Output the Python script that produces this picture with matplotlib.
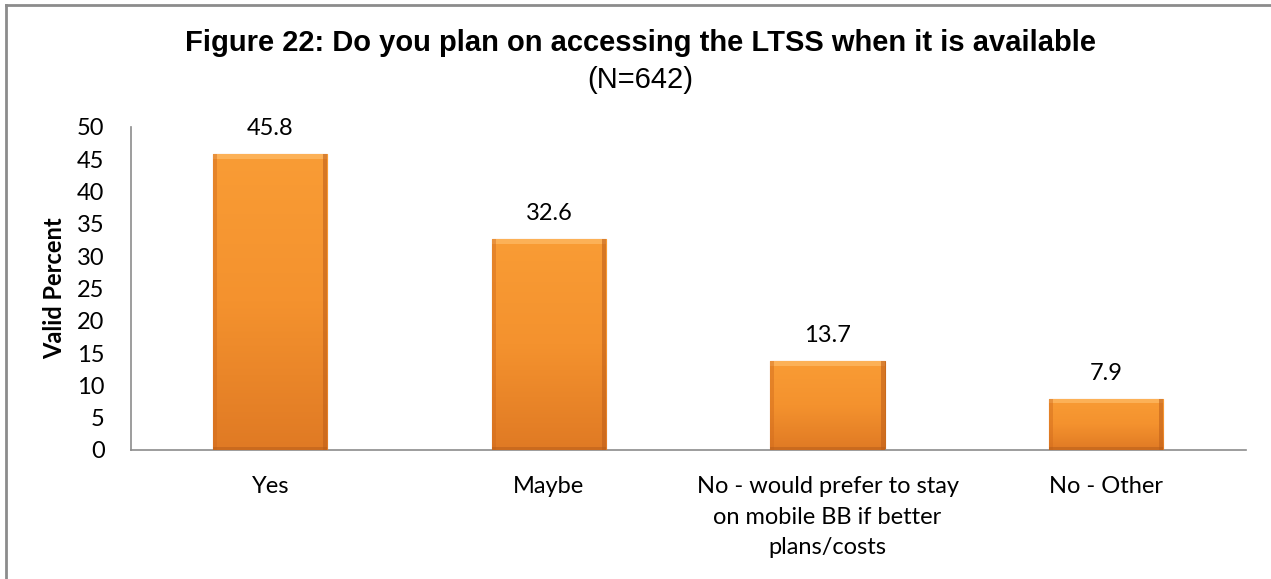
import numpy as np
import matplotlib.pyplot as plt
from matplotlib.colors import LinearSegmentedColormap
from matplotlib.patches import Rectangle

categories = ['Yes', 'Maybe', 'No - would prefer to stay\non mobile BB if better\nplans/costs', 'No - Other']
values = [45.8, 32.6, 13.7, 7.9]
yticks = [0, 5, 10, 15, 20, 25, 30, 35, 40, 45, 50]

body_font = ['Lato', 'DejaVu Sans']
title_font = ['Liberation Sans', 'DejaVu Sans']

fig = plt.figure(figsize=(12.71, 5.79), dpi=100)
ax = fig.add_axes([0.103, 0.2228, 0.877, 0.5579])

x = np.arange(len(categories))
bars = ax.bar(x, values, width=0.41, color='#F39433', edgecolor='#C96A1C', linewidth=0.8, zorder=2)

# vertical gradient + bevel look on each bar
grad = LinearSegmentedColormap.from_list('bar', ['#F99C35', '#F4922E', '#E07A24'])
for b in bars:
    x0, w, h = b.get_x(), b.get_width(), b.get_height()
    img = np.linspace(0, 1, 100).reshape(-1, 1)
    im = ax.imshow(img, cmap=grad, aspect='auto', extent=[x0, x0 + w, 0, h], zorder=3,
                   interpolation='bicubic')
    im.set_clip_path(b)
    # bevel edges
    ax.add_patch(Rectangle((x0, h - 0.7), w, 0.7, color='#FDB45C', alpha=0.9, zorder=4, linewidth=0))
    ax.add_patch(Rectangle((x0, 0), w * 0.035, h, color='#D06A1C', alpha=0.45, zorder=4, linewidth=0))
    ax.add_patch(Rectangle((x0 + w * 0.965, 0), w * 0.035, h, color='#C0601A', alpha=0.6, zorder=4, linewidth=0))
    ax.add_patch(Rectangle((x0, 0), w, 0.45, color='#B85E1A', alpha=0.55, zorder=4, linewidth=0))

for xi, v in zip(x, values):
    ax.text(xi, v + 4.0, f'{v:.1f}', ha='center', va='center', fontsize=17, family=body_font, color='#000000')

ax.set_xlim(-0.5, len(categories) - 0.5)
ax.set_ylim(0, 50)
ax.set_yticks(yticks)
ax.set_yticklabels([str(t) for t in yticks], family=body_font, fontsize=17)
ax.set_xticks(x)
ax.set_xticklabels(categories, family=body_font, fontsize=17, linespacing=1.55)
ax.tick_params(axis='y', length=0, pad=19)
ax.tick_params(axis='x', length=0, pad=19)

for s in ['top', 'right']:
    ax.spines[s].set_visible(False)
for s in ['left', 'bottom']:
    ax.spines[s].set_color('#8C8C8C')
    ax.spines[s].set_linewidth(1.2)

ax.set_ylabel('Valid Percent', family=body_font, fontsize=17, fontweight='bold', labelpad=8)

fig.text(0.504, 0.926, 'Figure 22: Do you plan on accessing the LTSS when it is available',
         ha='center', va='center', fontsize=21, fontweight='bold', family=title_font)
fig.text(0.504, 0.862, '(N=642)', ha='center', va='center', fontsize=21, family=title_font)

# outer chart border (left and top edges visible)
fig.add_artist(plt.Line2D([0.0047, 0.0047], [0, 0.991], color='#8C8C8C', linewidth=2, transform=fig.transFigure))
fig.add_artist(plt.Line2D([0.0047, 1.0], [0.991, 0.991], color='#8C8C8C', linewidth=2, transform=fig.transFigure))

fig.savefig('out.png', dpi=100)
